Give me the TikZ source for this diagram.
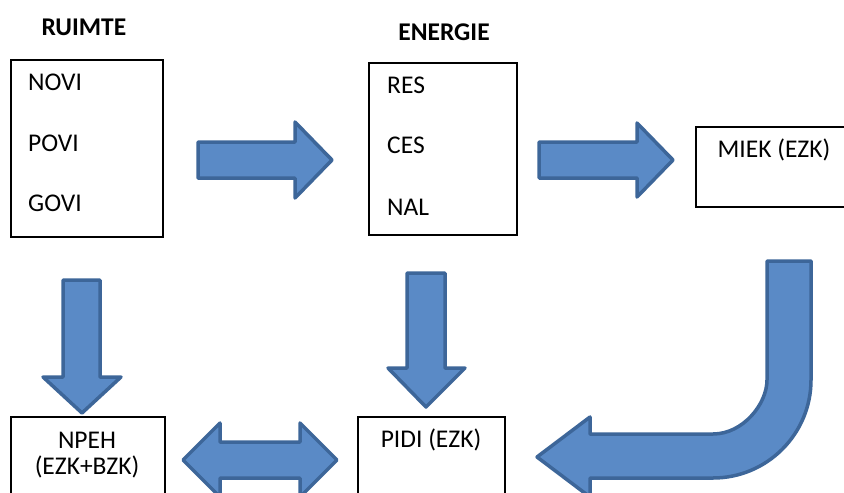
\documentclass[tikz,border=0pt]{standalone}
\usepackage{fontspec}
\setmainfont{Carlito}
\definecolor{arrowfill}{HTML}{5A8AC6}
\definecolor{arrowline}{HTML}{3D6699}
\begin{document}
\begin{tikzpicture}[x=1pt,y=-1pt,
  box/.style={draw=black,line width=1.8pt,fill=white,rectangle,inner sep=0pt,anchor=north west},
  blk/.style={fill=arrowfill,draw=arrowline,line width=3.5pt,line join=round},
  lbl/.style={font=\fontsize{25.5}{30}\selectfont,inner sep=0pt,anchor=base west},
  clbl/.style={font=\fontsize{25.5}{30}\selectfont,inner sep=0pt,anchor=base},
  headlbl/.style={font=\bfseries\fontsize{25.5}{30}\selectfont,inner sep=0pt,anchor=base}]
\useasboundingbox (0,0) rectangle (844,493);
\clip (0,0) rectangle (844,493);
\fill[white] (0,0) rectangle (844,493);
% boxes
\node[box,minimum width=152pt,minimum height=177pt] (ruimte) at (10,59) {};
\node[box,minimum width=148pt,minimum height=172pt] (energie) at (368,62) {};
\node[box,minimum width=165pt,minimum height=80pt] (miek) at (695,126) {};
\node[box,minimum width=154pt,minimum height=100pt] (npeh) at (10,416) {};
\node[box,minimum width=147pt,minimum height=100pt] (pidi) at (357,416) {};
% headings
\node[headlbl] (h1) at (84,35) {RUIMTE};
\node[headlbl] (h2) at (444,40) {ENERGIE};
% labels
\node[lbl] (t1) at (28,90) {NOVI};
\node[lbl] (t2) at (28,151) {POVI};
\node[lbl] (t3) at (28,211) {GOVI};
\node[lbl] (t4) at (387,93) {RES};
\node[lbl] (t5) at (387,153) {CES};
\node[lbl] (t6) at (387,215) {NAL};
\node[clbl] (t7) at (774,157) {MIEK (EZK)};
\node[clbl] (t8) at (87,448) {NPEH};
\node[clbl] (t9) at (87,474) {(EZK+BZK)};
\node[clbl] (t10) at (431,447) {PIDI (EZK)};
% block arrows
\draw[blk] (198,142) -- (295,142) -- (295,122) -- (332,160) -- (295,198) -- (295,178) -- (198,178) -- cycle;
\draw[blk] (539,142) -- (637,142) -- (637,123) -- (673,160) -- (637,197) -- (637,178) -- (539,178) -- cycle;
\draw[blk] (63,280) -- (100,280) -- (100,377) -- (121,377) -- (82,413) -- (43,377) -- (63,377) -- cycle;
\draw[blk] (407,273) -- (445,273) -- (445,368) -- (465,368) -- (426,407) -- (388,368) -- (407,368) -- cycle;
\draw[blk] (183,460) -- (220,423) -- (220,442) -- (300,442) -- (300,423) -- (337,460) -- (300,497) -- (300,478) -- (220,478) -- (220,497) -- cycle;
\draw[blk] (767,261) -- (811,261) -- (811,380) .. controls (811,434) and (767,478) .. (713,478) -- (590,478) -- (590,497) -- (537,457) -- (590,417) -- (590,434) -- (713,434) .. controls (743,434) and (767,404) .. (767,380) -- cycle;
\end{tikzpicture}
\end{document}
